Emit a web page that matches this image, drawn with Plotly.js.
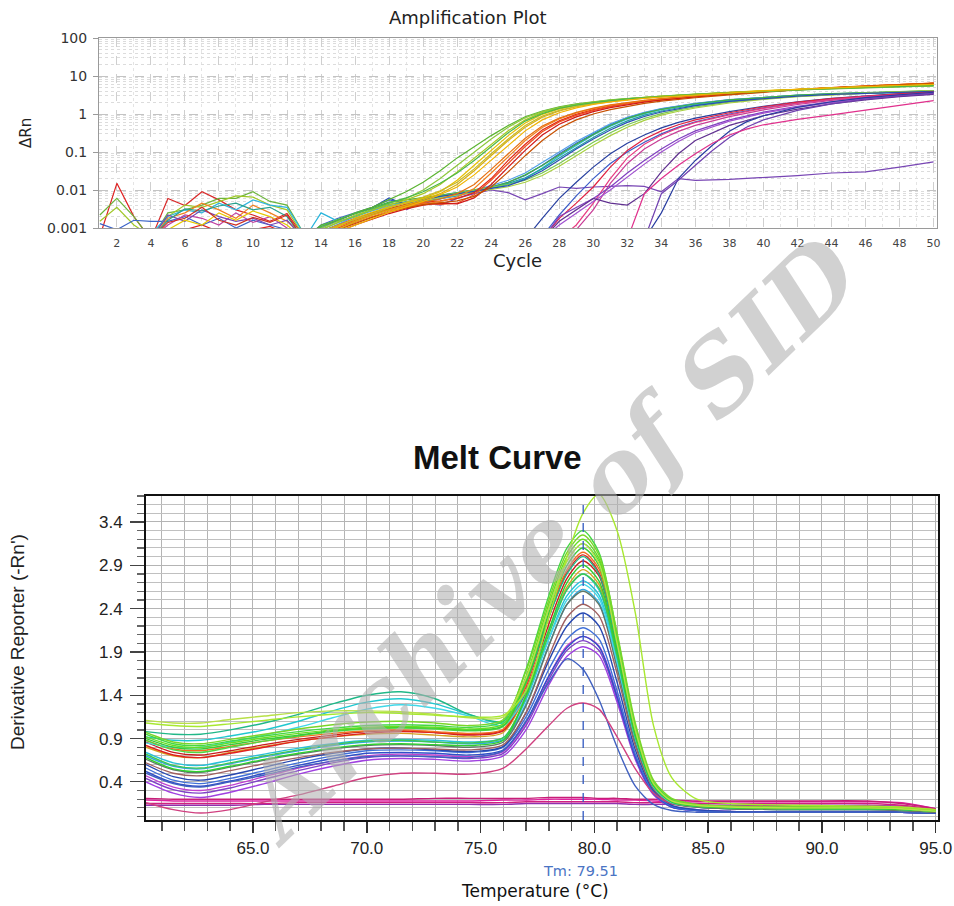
<!DOCTYPE html>
<html><head><meta charset="utf-8">
<script src="https://cdn.plot.ly/plotly-3.0.1.min.js"></script>
<style>html,body{margin:0;padding:0;background:#fff}#chart{width:954px;height:906px}</style>
</head><body><div id="chart"></div>
<script>
// ---------------- Amplification plot data ----------------
const cyclesNoise = [1,2,3,4,5,6,7,8,9,10,11,12,13];
const noiseRed1   = [0.0006,0.015,0.002,0.0005,0.0006,0.0009,0.0012,0.0008,0.0006,0.0009,0.0011,0.0007,0.0005];
const noiseRed2   = [0.0005,0.0005,0.0005,0.0005,0.006,0.0039,0.009,0.0055,0.003,0.0022,0.0015,0.0024,0.0006];
const noiseGreen  = [0.0022,0.006,0.002,0.0005,0.0025,0.003,0.004,0.006,0.006,0.009,0.005,0.004,0.0007];
const noiseYGreen = [0.0015,0.0035,0.0012,0.0006,0.002,0.004,0.0035,0.005,0.007,0.0065,0.004,0.003,0.0006];
const noiseBlue   = [0.0013,0.0009,0.0016,0.0015,0.0015,0.002,0.0012,0.0018,0.001,0.0016,0.0012,0.0009,0.0006];
const noiseCyan   = [0.0006,0.0006,0.0005,0.0007,0.002,0.003,0.0025,0.0045,0.003,0.0055,0.004,0.0035,0.0007];
const noiseOrange = [0.0005,0.0005,0.0005,0.0005,0.0018,0.0025,0.0045,0.003,0.0018,0.004,0.0025,0.0015,0.0006];
const noiseMagenta= [0.0005,0.0005,0.0005,0.0005,0.0012,0.0022,0.0018,0.0012,0.0025,0.0014,0.002,0.001,0.0005];
const noisePurple = [0.0005,0.0005,0.0005,0.0005,0.0022,0.0015,0.003,0.002,0.0015,0.0018,0.0012,0.0016,0.0005];
const noiseYellow = [0.0005,0.0005,0.0005,0.0005,0.0009,0.0016,0.0012,0.0025,0.0016,0.0028,0.002,0.0012,0.0005];
const noiseTeal   = [0.0005,0.0005,0.0005,0.0005,0.0016,0.0032,0.0028,0.0038,0.0045,0.003,0.0035,0.002,0.0005];
const noiseRed3   = [0.0005,0.0005,0.0005,0.0005,0.0014,0.0018,0.0035,0.0016,0.0012,0.0019,0.0014,0.0022,0.0005];

const cyclesGrowth = [13,14,15,16,17,18,19,20,21,22,23,24,25,26,27,28,29,30,31,32,33,34,35,36,38,40,42,44,46,48,50];
const ampA1 = [0.0005,0.0012,0.0016,0.0025,0.0035,0.0055,0.009,0.016,0.032,0.07,0.14,0.27,0.5,0.85,1.2,1.55,1.85,2.1,2.35,2.55,2.75,2.95,3.1,3.25,3.6,3.95,4.3,4.6,4.9,5.2,5.5];
const ampA2 = [0.0005,0.0009,0.0014,0.0022,0.003,0.004,0.0055,0.008,0.014,0.03,0.07,0.16,0.36,0.7,1.1,1.45,1.75,2.05,2.3,2.55,2.75,2.95,3.15,3.3,3.7,4.05,4.4,4.75,5.05,5.35,5.6];
const ampA3 = [0.0005,0.0007,0.0011,0.0018,0.0026,0.0036,0.0045,0.006,0.009,0.018,0.045,0.11,0.27,0.58,0.98,1.35,1.7,2.0,2.25,2.5,2.72,2.92,3.12,3.3,3.7,4.1,4.5,4.85,5.2,5.5,5.8];
const ampA4 = [0.0005,0.0006,0.0009,0.0015,0.0022,0.003,0.0042,0.0055,0.008,0.014,0.032,0.08,0.2,0.45,0.82,1.2,1.55,1.85,2.12,2.38,2.6,2.82,3.02,3.2,3.62,4.02,4.42,4.8,5.15,5.48,5.8];
const ampA5 = [0.0005,0.001,0.0015,0.002,0.003,0.0045,0.006,0.01,0.02,0.045,0.1,0.22,0.45,0.8,1.15,1.5,1.8,2.08,2.33,2.55,2.77,2.97,3.15,3.32,3.7,4.05,4.4,4.7,5.0,5.3,5.55];
const ampA6 = [0.0005,0.0008,0.0012,0.0017,0.0024,0.0034,0.0048,0.0065,0.0095,0.016,0.036,0.09,0.22,0.5,0.88,1.25,1.6,1.9,2.17,2.42,2.65,2.87,3.07,3.25,3.67,4.07,4.47,4.85,5.2,5.52,5.85];
const ampA7 = [0.0005,0.0011,0.0017,0.0024,0.0032,0.0046,0.0062,0.009,0.015,0.028,0.06,0.14,0.32,0.65,1.02,1.4,1.72,2.0,2.27,2.5,2.72,2.92,3.1,3.27,3.65,4.0,4.35,4.68,5.0,5.3,5.55];
const ampA8 = [0.0005,0.0006,0.0008,0.0012,0.0018,0.0026,0.0036,0.005,0.0075,0.012,0.025,0.06,0.15,0.36,0.7,1.08,1.45,1.78,2.07,2.34,2.58,2.8,3.0,3.2,3.62,4.05,4.47,4.88,5.27,5.63,6.0];
const ampO1 = [0.0005,0.0008,0.0012,0.0018,0.0025,0.0033,0.0042,0.0048,0.0052,0.006,0.0085,0.02,0.06,0.16,0.38,0.66,0.98,1.3,1.62,1.92,2.2,2.45,2.7,2.93,3.4,3.9,4.4,4.9,5.4,5.9,6.4];
const ampO2 = [0.0005,0.0007,0.001,0.0015,0.0022,0.003,0.0038,0.0045,0.0042,0.0045,0.0075,0.018,0.05,0.14,0.34,0.62,0.92,1.24,1.56,1.86,2.14,2.4,2.65,2.88,3.38,3.9,4.42,4.95,5.45,5.95,6.5];
const ampO3 = [0.0005,0.0006,0.0009,0.0014,0.002,0.0028,0.0036,0.0042,0.005,0.0065,0.011,0.028,0.075,0.2,0.44,0.74,1.06,1.38,1.7,1.98,2.26,2.5,2.74,2.97,3.45,3.95,4.45,4.95,5.45,5.95,6.45];
const ampO4 = [0.0005,0.0006,0.0008,0.0012,0.0017,0.0024,0.0032,0.004,0.0045,0.0043,0.0062,0.014,0.04,0.11,0.28,0.54,0.84,1.15,1.47,1.78,2.06,2.33,2.58,2.82,3.32,3.85,4.38,4.9,5.42,5.95,6.45];
const ampO5 = [0.0005,0.0007,0.0011,0.0016,0.0023,0.0031,0.004,0.0047,0.0058,0.008,0.014,0.035,0.09,0.23,0.48,0.78,1.1,1.42,1.74,2.02,2.3,2.54,2.78,3.0,3.48,3.98,4.48,4.98,5.48,5.98,6.5];
const ampO6 = [0.0005,0.0006,0.0009,0.0013,0.0019,0.0026,0.0034,0.0041,0.0047,0.0052,0.0068,0.012,0.03,0.08,0.2,0.42,0.7,1.0,1.3,1.6,1.9,2.17,2.43,2.68,3.2,3.75,4.3,4.85,5.4,5.92,6.4];
const ampB1 = [0.0005,0.0012,0.0018,0.0025,0.0035,0.0055,0.0045,0.005,0.006,0.007,0.009,0.012,0.016,0.024,0.045,0.09,0.17,0.3,0.52,0.8,1.08,1.36,1.62,1.88,2.35,2.75,3.1,3.38,3.62,3.82,4.0];
const ampB2 = [0.0005,0.0025,0.0015,0.002,0.003,0.004,0.0035,0.0048,0.0058,0.0072,0.009,0.011,0.014,0.02,0.038,0.078,0.15,0.28,0.48,0.74,1.02,1.3,1.56,1.82,2.3,2.72,3.08,3.36,3.6,3.8,3.98];
const ampB3 = [0.0005,0.0008,0.0013,0.002,0.0028,0.0038,0.0048,0.006,0.0072,0.0085,0.01,0.013,0.018,0.028,0.052,0.1,0.19,0.33,0.55,0.82,1.1,1.38,1.64,1.9,2.38,2.78,3.12,3.4,3.64,3.84,4.02];
const ampB4 = [0.0005,0.0009,0.0014,0.0021,0.003,0.0042,0.005,0.0058,0.0068,0.008,0.0095,0.012,0.015,0.021,0.036,0.07,0.13,0.24,0.42,0.66,0.93,1.2,1.46,1.72,2.2,2.62,3.0,3.3,3.55,3.77,3.95];
const ampB5 = [0.0005,0.0011,0.0016,0.0024,0.0034,0.0048,0.0055,0.0062,0.0072,0.0085,0.01,0.012,0.016,0.025,0.044,0.085,0.16,0.29,0.5,0.77,1.05,1.33,1.6,1.86,2.34,2.76,3.12,3.42,3.68,3.9,4.1];
const ampB6 = [0.0005,0.0007,0.0011,0.0017,0.0025,0.0036,0.0047,0.0058,0.007,0.0083,0.0098,0.0115,0.014,0.018,0.028,0.05,0.095,0.18,0.32,0.52,0.76,1.02,1.28,1.54,2.05,2.5,2.9,3.25,3.55,3.82,4.05];
const ampB7 = [0.0005,0.0006,0.001,0.0015,0.0022,0.0031,0.0041,0.0052,0.0063,0.0075,0.0088,0.0102,0.0122,0.016,0.024,0.042,0.08,0.15,0.27,0.45,0.68,0.93,1.18,1.44,1.95,2.42,2.85,3.22,3.55,3.85,4.1];
const ampB8 = [0.0005,0.001,0.0016,0.0024,0.0034,0.0062,0.004,0.0055,0.0068,0.0078,0.0092,0.011,0.013,0.019,0.032,0.062,0.12,0.22,0.38,0.6,0.86,1.13,1.4,1.66,2.15,2.58,2.96,3.27,3.53,3.76,3.95];

const cyclesLate = [26,27,28,29,30,31,32,33,34,35,36,38,40,42,44,46,48,50];
const ampM1 = [0.0005,0.0018,0.006,0.016,0.04,0.09,0.17,0.28,0.43,0.6,0.78,1.15,1.6,2.1,2.6,3.05,3.45,3.8];
const ampM2 = [0.0005,0.0006,0.0022,0.007,0.02,0.05,0.1,0.18,0.3,0.45,0.62,1.0,1.45,1.95,2.45,2.9,3.3,3.7];
const ampM3 = [0.0005,0.0005,0.0018,0.0045,0.012,0.04,0.11,0.22,0.36,0.52,0.7,1.08,1.55,2.05,2.55,3.0,3.4,3.75];
const ampM4 = [0.0005,0.0005,0.0005,0.0012,0.0045,0.02,0.07,0.16,0.28,0.43,0.6,0.95,1.4,1.9,2.4,2.85,3.25,3.6];
const ampM5 = [0.0005,0.0005,0.0005,0.0009,0.003,0.015,0.05,0.12,0.22,0.35,0.5,0.85,1.28,1.78,2.28,2.75,3.2,3.6];
const ampM6 = [0.0005,0.0005,0.002,0.0035,0.006,0.012,0.028,0.06,0.12,0.22,0.36,0.7,1.12,1.6,2.1,2.6,3.05,3.5];
const ampM7 = [0.0005,0.0005,0.0012,0.0025,0.005,0.01,0.022,0.048,0.1,0.19,0.32,0.65,1.05,1.52,2.0,2.5,2.95,3.4];
const ampM8 = [0.0005,0.0005,0.0015,0.003,0.006,0.0045,0.004,0.008,0.03,0.09,0.2,0.5,0.9,1.35,1.85,2.35,2.85,3.3];

const cyclesVeryLate = [32,33,34,35,36,37,38,39,40,42,44,46,48,50];
const ampV1 = [0.0005,0.0005,0.0025,0.02,0.06,0.15,0.35,0.62,0.9,1.5,2.1,2.7,3.2,3.7];
const ampV2 = [0.0005,0.0005,0.008,0.018,0.045,0.11,0.24,0.45,0.7,1.25,1.85,2.45,3.0,3.5];
const ampPinkLate = [0.0005,0.008,0.02,0.045,0.09,0.17,0.28,0.4,0.52,0.72,0.95,1.25,1.7,2.25];

const cyclesFlat = [19,20,21,22,23,24,25,26,27,28,29,30,31,32,33,34,35,36,38,40,42,44,46,48,50];
const ampFlat = [0.003,0.005,0.004,0.006,0.008,0.01,0.0085,0.0055,0.008,0.012,0.011,0.012,0.0125,0.013,0.0125,0.009,0.02,0.018,0.019,0.021,0.024,0.028,0.03,0.04,0.055];

const ampTickVals = [0.001,0.01,0.1,1,10,100];
const ampTickText = ['0.001','0.01','0.1','1','10','100'];

// ---------------- Melt curve data ----------------
const temps = [60.3,61.5,62.7,64,65.5,67,68.5,70,71.5,73,74.5,76,77,78,78.8,79.5,80.2,81,81.8,82.6,83.4,84.5,86,89,92,93.5,95];
const meltG1 = [0.95,0.84,0.82,0.87,0.93,0.98,1.02,1.05,1.06,1.05,1.03,1.10,1.70,2.55,3.10,3.30,3.05,2.10,1.05,0.40,0.20,0.14,0.12,0.11,0.11,0.10,0.07];
const meltG2 = [0.92,0.82,0.80,0.85,0.91,0.96,1.00,1.03,1.04,1.03,1.01,1.07,1.62,2.45,3.00,3.20,2.98,2.05,1.00,0.38,0.19,0.13,0.11,0.10,0.10,0.09,0.07];
const meltG3 = [0.90,0.80,0.78,0.83,0.89,0.94,0.99,1.02,1.03,1.02,1.00,1.05,1.55,2.35,2.90,3.10,2.90,2.00,0.98,0.37,0.18,0.13,0.11,0.10,0.10,0.09,0.06];
const meltG4 = [0.97,0.86,0.84,0.89,0.95,1.01,1.06,1.09,1.10,1.08,1.05,1.12,1.68,2.50,3.05,3.25,3.02,2.12,1.08,0.42,0.21,0.14,0.12,0.11,0.11,0.10,0.07];
const meltG5 = [0.68,0.55,0.52,0.58,0.66,0.73,0.79,0.83,0.84,0.83,0.82,0.88,1.40,2.15,2.70,2.90,2.72,1.90,0.95,0.36,0.17,0.12,0.10,0.09,0.09,0.08,0.06];
const meltG6 = [0.72,0.59,0.56,0.62,0.70,0.77,0.83,0.87,0.88,0.86,0.85,0.91,1.38,2.10,2.62,2.80,2.64,1.85,0.92,0.35,0.17,0.12,0.10,0.09,0.09,0.08,0.06];
const meltG7 = [0.88,0.77,0.74,0.80,0.87,0.93,0.98,1.01,1.02,1.01,0.99,1.04,1.58,2.40,2.95,3.15,2.95,2.05,1.00,0.38,0.18,0.13,0.11,0.10,0.10,0.09,0.06];
const meltLime = [1.08,1.05,1.04,1.07,1.11,1.15,1.18,1.20,1.19,1.17,1.15,1.17,1.45,2.30,3.00,3.50,3.72,3.30,2.35,1.05,0.45,0.20,0.15,0.13,0.12,0.11,0.08];
const meltYG = [1.11,1.08,1.08,1.12,1.16,1.20,1.22,1.22,1.21,1.18,1.14,1.15,1.60,2.40,2.95,3.15,2.92,2.00,1.00,0.38,0.18,0.13,0.11,0.10,0.10,0.09,0.06];
const meltT1 = [0.98,0.95,0.95,1.00,1.08,1.18,1.30,1.40,1.44,1.36,1.18,1.10,1.55,2.30,2.80,3.00,2.80,1.95,0.95,0.36,0.18,0.13,0.11,0.10,0.10,0.09,0.06];
const meltT2 = [0.92,0.88,0.88,0.93,1.00,1.10,1.22,1.32,1.36,1.30,1.18,1.08,1.45,2.15,2.62,2.80,2.62,1.85,0.92,0.35,0.17,0.12,0.10,0.09,0.09,0.08,0.06];
const meltT3 = [0.85,0.80,0.80,0.86,0.94,1.03,1.14,1.24,1.29,1.25,1.16,1.05,1.40,2.05,2.50,2.68,2.52,1.78,0.90,0.34,0.16,0.12,0.10,0.09,0.09,0.08,0.06];
const meltR1 = [0.82,0.71,0.68,0.73,0.80,0.87,0.92,0.96,0.98,0.97,0.95,1.00,1.50,2.30,2.82,3.02,2.82,1.95,0.95,0.36,0.17,0.12,0.10,0.09,0.09,0.08,0.06];
const meltR2 = [0.86,0.74,0.71,0.76,0.83,0.89,0.94,0.98,0.99,0.97,0.94,0.99,1.45,2.22,2.75,2.95,2.78,1.92,0.94,0.35,0.17,0.12,0.10,0.09,0.09,0.08,0.06];
const meltR3 = [0.88,0.78,0.76,0.81,0.87,0.92,0.96,0.99,1.00,0.98,0.96,1.01,1.52,2.32,2.85,3.05,2.86,1.98,0.97,0.37,0.18,0.13,0.11,0.10,0.10,0.09,0.06];
const meltGold = [0.80,0.70,0.68,0.74,0.81,0.87,0.92,0.95,0.96,0.94,0.92,0.97,1.42,2.15,2.65,2.85,2.68,1.88,0.92,0.35,0.17,0.12,0.10,0.09,0.09,0.08,0.06];
const meltBrown = [0.62,0.50,0.47,0.53,0.61,0.68,0.74,0.78,0.79,0.78,0.77,0.83,1.20,1.85,2.30,2.45,2.32,1.65,0.82,0.32,0.15,0.11,0.09,0.08,0.08,0.07,0.05];
const meltOlive = [0.66,0.54,0.51,0.57,0.65,0.72,0.78,0.82,0.83,0.82,0.80,0.86,1.28,1.97,2.45,2.60,2.45,1.72,0.86,0.33,0.16,0.11,0.09,0.08,0.08,0.07,0.05];
const meltC1 = [0.74,0.62,0.59,0.65,0.72,0.79,0.84,0.88,0.89,0.88,0.86,0.91,1.35,2.05,2.55,2.72,2.56,1.80,0.90,0.34,0.16,0.11,0.09,0.08,0.08,0.07,0.05];
const meltC2 = [0.70,0.58,0.55,0.61,0.69,0.76,0.82,0.86,0.87,0.86,0.84,0.89,1.30,1.98,2.45,2.62,2.47,1.74,0.87,0.33,0.16,0.11,0.09,0.08,0.08,0.07,0.05];
const meltB1 = [0.56,0.42,0.38,0.44,0.53,0.62,0.70,0.76,0.77,0.76,0.74,0.80,1.15,1.70,2.05,2.18,2.05,1.45,0.72,0.28,0.12,0.07,0.05,0.05,0.05,0.05,0.04];
const meltB2 = [0.52,0.39,0.35,0.41,0.50,0.59,0.67,0.73,0.74,0.73,0.71,0.77,1.10,1.62,1.95,2.08,1.96,1.38,0.69,0.27,0.11,0.07,0.05,0.05,0.05,0.05,0.04];
const meltB3 = [0.60,0.46,0.42,0.48,0.57,0.66,0.73,0.78,0.79,0.77,0.75,0.81,1.20,1.80,2.20,2.35,2.20,1.55,0.77,0.30,0.13,0.08,0.06,0.05,0.05,0.05,0.04];
const meltBEarly = [0.50,0.38,0.34,0.40,0.48,0.57,0.64,0.69,0.70,0.69,0.68,0.76,1.10,1.55,1.82,1.70,1.35,0.80,0.35,0.14,0.07,0.05,0.05,0.05,0.05,0.05,0.04];
const meltP1 = [0.44,0.31,0.27,0.33,0.43,0.53,0.62,0.68,0.70,0.69,0.67,0.73,1.05,1.58,1.92,2.03,1.92,1.36,0.68,0.26,0.11,0.07,0.05,0.05,0.05,0.05,0.04];
const meltP2 = [0.40,0.27,0.22,0.28,0.38,0.49,0.58,0.65,0.67,0.66,0.64,0.70,1.00,1.52,1.85,1.96,1.86,1.32,0.66,0.25,0.11,0.07,0.05,0.05,0.05,0.05,0.04];
const meltP3 = [0.47,0.34,0.30,0.36,0.46,0.56,0.64,0.70,0.72,0.71,0.69,0.75,1.08,1.62,1.97,2.08,1.97,1.40,0.70,0.27,0.12,0.08,0.06,0.05,0.05,0.05,0.04];
const meltPinkHump = [0.16,0.08,0.04,0.08,0.17,0.25,0.35,0.45,0.50,0.50,0.49,0.56,0.78,1.05,1.25,1.31,1.24,0.92,0.55,0.27,0.15,0.13,0.12,0.12,0.12,0.11,0.08];
const meltF1 = [0.19,0.18,0.18,0.18,0.18,0.18,0.18,0.18,0.18,0.18,0.18,0.19,0.19,0.20,0.20,0.20,0.20,0.19,0.19,0.18,0.17,0.17,0.17,0.17,0.17,0.16,0.09];
const meltF2 = [0.15,0.15,0.15,0.15,0.15,0.16,0.16,0.16,0.16,0.16,0.16,0.16,0.17,0.17,0.17,0.17,0.17,0.17,0.16,0.16,0.16,0.15,0.15,0.15,0.15,0.13,0.08];
const meltF3 = [0.21,0.20,0.20,0.20,0.20,0.20,0.20,0.20,0.20,0.21,0.21,0.21,0.21,0.22,0.22,0.22,0.21,0.21,0.20,0.20,0.19,0.18,0.18,0.18,0.18,0.15,0.09];
const meltF4 = [0.13,0.13,0.13,0.13,0.14,0.14,0.14,0.14,0.14,0.14,0.14,0.14,0.15,0.15,0.15,0.15,0.15,0.15,0.14,0.14,0.14,0.13,0.13,0.13,0.13,0.12,0.07];

const tmValue = 79.51;

// ---------------- styling (colours per series) ----------------
const ampSeries = [
  [cyclesNoise, noiseRed1, '#e02020'], [cyclesNoise, noiseRed2, '#d82828'], [cyclesNoise, noiseGreen, '#6cb43c'],
  [cyclesNoise, noiseYGreen, '#a0c828'], [cyclesNoise, noiseBlue, '#3c64c8'], [cyclesNoise, noiseCyan, '#30b4e0'],
  [cyclesNoise, noiseOrange, '#f08020'], [cyclesNoise, noiseMagenta, '#c040a0'], [cyclesNoise, noisePurple, '#7846b4'],
  [cyclesNoise, noiseYellow, '#e6c800'], [cyclesNoise, noiseTeal, '#28a08c'], [cyclesNoise, noiseRed3, '#d03020'],
  [cyclesFlat, ampFlat, '#7846b4'],
  [cyclesGrowth, ampB1, '#3c64c8'], [cyclesGrowth, ampB2, '#28b4dc'], [cyclesGrowth, ampB3, '#50a0e8'], [cyclesGrowth, ampB4, '#20a0a0'],
  [cyclesGrowth, ampB5, '#40b040'], [cyclesGrowth, ampB6, '#78c850'], [cyclesGrowth, ampB7, '#a8d040'], [cyclesGrowth, ampB8, '#2850b4'],
  [cyclesLate, ampM1, '#2840a0'], [cyclesLate, ampM2, '#3c5cc8'], [cyclesLate, ampM3, '#e02040'], [cyclesLate, ampM4, '#e83c82'],
  [cyclesLate, ampM5, '#c83c96'], [cyclesLate, ampM6, '#8040c0'], [cyclesLate, ampM7, '#a050d0'], [cyclesLate, ampM8, '#603090'],
  [cyclesVeryLate, ampV1, '#283ca0'], [cyclesVeryLate, ampV2, '#7040b0'], [cyclesVeryLate, ampPinkLate, '#e0308c'],
  [cyclesGrowth, ampO1, '#e02818'], [cyclesGrowth, ampO2, '#f05020'], [cyclesGrowth, ampO3, '#f08020'],
  [cyclesGrowth, ampO4, '#d01818'], [cyclesGrowth, ampO5, '#e87010'], [cyclesGrowth, ampO6, '#c85000'],
  [cyclesGrowth, ampA1, '#5ab430'], [cyclesGrowth, ampA2, '#a8c820'], [cyclesGrowth, ampA3, '#e8c000'], [cyclesGrowth, ampA4, '#d8b010'],
  [cyclesGrowth, ampA5, '#8cc83c'], [cyclesGrowth, ampA6, '#c8b828'], [cyclesGrowth, ampA7, '#4cb848'], [cyclesGrowth, ampA8, '#f0b400']
];
const meltSeries = [
  [meltF4, '#9030b0'], [meltF2, '#d02080'], [meltF1, '#e020a0'], [meltF3, '#c81e78'],
  [meltP2, '#a040e0'], [meltP1, '#8040c8'], [meltP3, '#c040d0'], [meltB2, '#3050c8'], [meltB1, '#4070d8'], [meltB3, '#2848b0'],
  [meltBEarly, '#4060c0'], [meltPinkHump, '#d04080'],
  [meltC2, '#30a8e0'], [meltC1, '#28c0d8'], [meltBrown, '#a06060'], [meltOlive, '#607868'],
  [meltGold, '#d8a020'], [meltR2, '#c81e1e'], [meltR1, '#e02020'], [meltR3, '#f07020'],
  [meltT3, '#40d8e8'], [meltT2, '#20c8d0'], [meltT1, '#20b888'],
  [meltG6, '#40c850'], [meltG5, '#30d030'], [meltG7, '#50d840'], [meltG3, '#38cc38'], [meltG2, '#66dd22'], [meltG1, '#44d844'], [meltG4, '#7ad628'],
  [meltYG, '#b8e048'], [meltLime, '#a8e830']
];

const traces = [];
ampSeries.forEach(s => traces.push({
  type: 'scatter', mode: 'lines', x: s[0], y: s[1], xaxis: 'x', yaxis: 'y',
  line: {color: s[2], width: 1.2}, hoverinfo: 'skip', cliponaxis: true
}));
meltSeries.forEach(s => traces.push({
  type: 'scatter', mode: 'lines', x: temps, y: s[0], xaxis: 'x2', yaxis: 'y2',
  line: {color: s[1], width: 1.4, shape: 'spline', smoothing: 0.8}, hoverinfo: 'skip'
}));

const minorLog = [];
for (let e = -3; e < 2; e++) for (let d = 2; d <= 9; d++) minorLog.push(d * Math.pow(10, e));

const W = 954, H = 906;
const px = v => v / W, py = v => 1 - v / H;
const ampFont = 'DejaVu Sans, sans-serif';
const meltFont = 'Liberation Sans, Arial, sans-serif';

const layout = {
  width: W, height: H, margin: {l: 0, r: 0, t: 0, b: 0},
  paper_bgcolor: '#fff', plot_bgcolor: '#fff', showlegend: false, hovermode: false,
  xaxis: {
    domain: [px(99), px(937)], anchor: 'y', range: [0.95, 50.2],
    tickmode: 'linear', tick0: 2, dtick: 2, ticks: '', ticklabelstandoff: 5,
    tickfont: {family: ampFont, size: 11, color: '#444'},
    showgrid: true, gridcolor: '#cfcfcf', griddash: 'dash', gridwidth: 1,
    minor: {dtick: 1, showgrid: true, gridcolor: '#e4e4e4', griddash: 'dot'},
    showline: true, linecolor: '#9a9a9a', linewidth: 1, mirror: true, zeroline: false
  },
  yaxis: {
    domain: [py(228), py(38)], anchor: 'x', type: 'log', range: [-3, 2],
    tickmode: 'array', tickvals: ampTickVals, ticktext: ampTickText,
    ticks: 'outside', ticklen: 5, tickcolor: '#9a9a9a', ticklabelstandoff: 3,
    tickfont: {family: ampFont, size: 14, color: '#333'},
    showgrid: true, gridcolor: '#c4c4c4', griddash: 'dash',
    minor: {tickvals: minorLog, showgrid: true, gridcolor: '#dcdcdc', griddash: 'dot', ticks: ''},
    showline: true, linecolor: '#9a9a9a', linewidth: 1, mirror: true, zeroline: false
  },
  xaxis2: {
    domain: [px(146), px(938)], anchor: 'y2', range: [60.3, 95.1],
    tickmode: 'linear', tick0: 65, dtick: 5, tickformat: '.1f',
    ticks: 'outside', ticklen: 11, tickwidth: 1.5, tickcolor: '#333', ticklabelstandoff: 1,
    tickfont: {family: meltFont, size: 17, color: '#222'},
    showgrid: true, gridcolor: '#b4b4b4', gridwidth: 1,
    minor: {dtick: 1, tick0: 61, ticks: 'outside', ticklen: 9, tickcolor: '#555', showgrid: true, gridcolor: '#b4b4b4', gridwidth: 1},
    showline: true, linecolor: '#111', linewidth: 2, mirror: true, zeroline: false
  },
  yaxis2: {
    domain: [py(820), py(496)], anchor: 'x2', range: [-0.04, 3.70],
    tickmode: 'linear', tick0: 0.4, dtick: 0.5, tickformat: '.1f',
    ticks: 'outside', ticklen: 14, tickwidth: 1.2, tickcolor: '#444', ticklabelstandoff: 4,
    tickfont: {family: meltFont, size: 17, color: '#222'},
    showgrid: true, gridcolor: '#b4b4b4', gridwidth: 1,
    minor: {dtick: 0.1, tick0: 0, ticks: 'outside', ticklen: 7, tickcolor: '#666', showgrid: true, gridcolor: '#c0c0c0', gridwidth: 1},
    showline: true, linecolor: '#111', linewidth: 2, mirror: true, zeroline: false
  },
  shapes: [{
    type: 'line', xref: 'x2', yref: 'y2 domain', x0: tmValue, x1: tmValue, y0: 0, y1: 1,
    line: {color: '#3058c0', width: 1.3, dash: 'dash'}
  }],
  annotations: [
    {text: 'Amplification Plot', xref: 'paper', yref: 'paper', x: px(468), y: py(18), showarrow: false,
     font: {family: ampFont, size: 18, color: '#222'}, xanchor: 'center', yanchor: 'middle'},
    {text: 'Cycle', xref: 'paper', yref: 'paper', x: px(517), y: py(260), showarrow: false,
     font: {family: ampFont, size: 18, color: '#222'}, xanchor: 'center', yanchor: 'middle'},
    {text: 'ΔRn', xref: 'paper', yref: 'paper', x: px(26), y: py(133), showarrow: false, textangle: -90,
     font: {family: ampFont, size: 15, color: '#222'}, xanchor: 'center', yanchor: 'middle'},
    {text: '<b>Melt Curve</b>', xref: 'paper', yref: 'paper', x: px(497), y: py(457), showarrow: false,
     font: {family: meltFont, size: 33, color: '#111'}, xanchor: 'center', yanchor: 'middle'},
    {text: "Derivative Reporter (-Rn')", xref: 'paper', yref: 'paper', x: px(17), y: py(642), showarrow: false, textangle: -90,
     font: {family: meltFont, size: 19, color: '#222'}, xanchor: 'center', yanchor: 'middle'},
    {text: 'Temperature (°C)', xref: 'paper', yref: 'paper', x: px(535), y: py(891), showarrow: false,
     font: {family: ampFont, size: 17, color: '#111'}, xanchor: 'center', yanchor: 'middle'},
    {text: 'Tm: 79.51', xref: 'paper', yref: 'paper', x: px(580), y: py(871), showarrow: false,
     font: {family: ampFont, size: 14.5, color: '#4a74c4'}, xanchor: 'center', yanchor: 'middle'},
    {text: 'Archive of SID', xref: 'paper', yref: 'paper', x: px(548), y: py(540), showarrow: false, textangle: -44,
     font: {family: 'DejaVu Serif, serif', size: 100, color: 'rgba(175,175,175,0.58)', style: 'italic', weight: 700},
     xanchor: 'center', yanchor: 'middle'}
  ]
};

Plotly.newPlot('chart', traces, layout, {staticPlot: true, displayModeBar: false});
</script></body></html>
